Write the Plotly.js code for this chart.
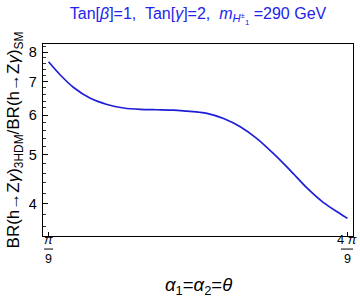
<!DOCTYPE html>
<html>
<head>
<meta charset="utf-8">
<script src="https://cdn.plot.ly/plotly-3.0.1.min.js"></script>
<style>html,body{margin:0;padding:0;background:#fff;}#chart{width:360px;height:298px;}</style>
</head>
<body>
<div id="chart"></div>
<script>
// theta (rad) sampled along the curve
var theta = [0.3491, 0.3901, 0.4367, 0.4952, 0.5537, 0.6118, 0.6703, 0.7288, 0.7869, 0.8339, 0.8780, 0.9039, 0.9621, 1.0206, 1.0791, 1.1372, 1.1957, 1.2542, 1.3123, 1.3708, 1.3963];
// BR ratio values
var ratio = [7.66, 7.21, 6.81, 6.48, 6.30, 6.20, 6.16, 6.15, 6.14, 6.11, 6.08, 6.05, 5.91, 5.69, 5.39, 5.03, 4.66, 4.30, 4.02, 3.82, 3.74];

var yTickVals = [4, 5, 6, 7, 8];
var yMinorVals = [3.6, 3.8, 4.2, 4.4, 4.6, 4.8, 5.2, 5.4, 5.6, 5.8, 6.2, 6.4, 6.6, 6.8, 7.2, 7.4, 7.6, 7.8, 8.2];
var xTickVals = [Math.PI / 9, 4 * Math.PI / 9];
var xTickNum = ['<i>π</i>', '4 <i>π</i>'];
var xTickDen = ['9', '9'];
var xBarHalfWidth = [4.5, 6.5];
var xTitle = '<i>α</i><sub>1</sub>=<i>α</i><sub>2</sub>=<i>θ</i>';

var font = 'Liberation Sans, Arial, sans-serif';

var shapes = xTickVals.map(function (v, i) {
  return {
    type: 'line', xref: 'x', yref: 'paper', xsizemode: 'pixel', xanchor: v,
    x0: -xBarHalfWidth[i], x1: xBarHalfWidth[i], y0: -0.068, y1: -0.068,
    line: {color: '#000', width: 1}
  };
});

var annotations = [];
xTickVals.forEach(function (v, i) {
  annotations.push({xref: 'x', yref: 'paper', x: v, y: -0.068, yshift: 0, yanchor: 'bottom', xanchor: 'center',
    text: xTickNum[i], showarrow: false, font: {family: font, size: 13, color: '#000'}});
  annotations.push({xref: 'x', yref: 'paper', x: v, y: -0.068, yshift: -1, yanchor: 'top', xanchor: 'center',
    text: xTickDen[i], showarrow: false, font: {family: font, size: 12.5, color: '#000'}});
});
annotations.push({xref: 'paper', yref: 'paper', x: 0.5, y: -0.26, xanchor: 'center', yanchor: 'middle',
  text: xTitle, showarrow: false, font: {family: font, size: 18.5, color: '#000'}});

var data = [{
  x: theta, y: ratio, type: 'scatter', mode: 'lines',
  line: {color: 'rgb(30,30,215)', width: 1.7, shape: 'spline', smoothing: 0.8},
  hoverinfo: 'skip'
}];

var layout = {
  width: 360, height: 298,
  margin: {l: 43, r: 7, t: 44, b: 62, pad: 0},
  paper_bgcolor: '#fff', plot_bgcolor: '#fff',
  showlegend: false,
  font: {family: font, color: '#000'},
  title: {
    text: 'Tan[<i>β</i>]=1,  Tan[<i>γ</i>]=2,  <i>m</i><sub><i>H</i><sup>±</sup><sub>1</sub></sub> =290 GeV',
    font: {family: font, size: 16, color: 'rgb(35,35,235)'},
    x: 0.5, xref: 'paper', xanchor: 'center', y: 0.955, yref: 'container', yanchor: 'middle'
  },
  xaxis: {
    range: [0.3295, 1.4156],
    tickmode: 'array', tickvals: xTickVals, showticklabels: false,
    ticks: 'inside', ticklen: 4, tickwidth: 1, tickcolor: '#000',
    showline: true, linecolor: '#000', linewidth: 1.2, mirror: true,
    showgrid: false, zeroline: false
  },
  yaxis: {
    type: 'log',
    range: [0.5378, 0.9196],
    tickmode: 'array', tickvals: yTickVals, ticktext: yTickVals.map(String),
    ticks: 'inside', ticklen: 5, tickwidth: 1, tickcolor: '#000',
    tickfont: {family: font, size: 14.5, color: '#000'},
    ticklabelstandoff: 2,
    minor: {tickmode: 'array', tickvals: yMinorVals, ticks: 'inside', ticklen: 2.5, tickwidth: 0.8, tickcolor: '#000', showgrid: false},
    showline: true, linecolor: '#000', linewidth: 1.2, mirror: true,
    showgrid: false, zeroline: false,
    title: {text: 'BR(h→Z<i>γ</i>)<sub>3HDM</sub>/BR(h→Z<i>γ</i>)<sub>SM</sub>', font: {family: font, size: 17, color: '#000'}, standoff: 4}
  },
  annotations: annotations,
  shapes: shapes
};

Plotly.newPlot('chart', data, layout, {staticPlot: true, displayModeBar: false});
</script>
</body>
</html>
